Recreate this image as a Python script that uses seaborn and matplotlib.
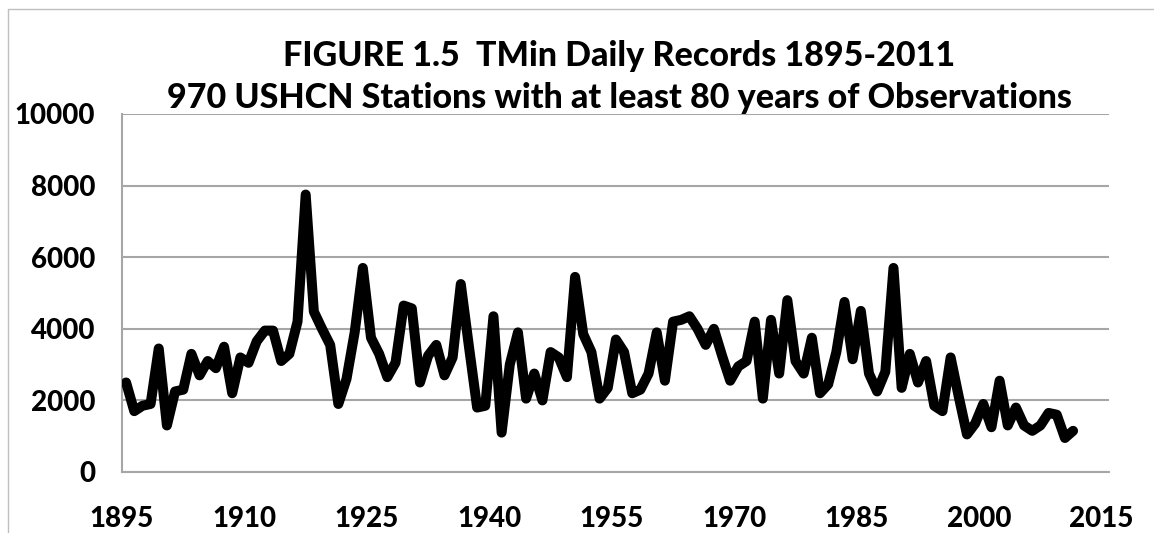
import numpy as np
import pandas as pd
import matplotlib
matplotlib.use("Agg")
import matplotlib.pyplot as plt
from matplotlib.ticker import MultipleLocator
from matplotlib.lines import Line2D
import seaborn as sns

# ---- data ----
years = list(range(1895, 2012))
records = [
    2500, 1700, 1850, 1900, 3450, 1300, 2250, 2300, 3300, 2700,   # 1895-1904
    3100, 2900, 3500, 2200, 3200, 3050, 3650, 3950, 3950, 3100,   # 1905-1914
    3300, 4200, 7750, 4480, 4000, 3550, 1900, 2600, 3900, 5700,   # 1915-1924
    3750, 3300, 2650, 3050, 4650, 4570, 2500, 3250, 3550, 2700,   # 1925-1934
    3200, 5250, 3500, 1800, 1850, 4350, 1100, 3000, 3900, 2050,   # 1935-1944
    2750, 2000, 3350, 3200, 2650, 5450, 3850, 3350, 2050, 2350,   # 1945-1954
    3700, 3350, 2200, 2300, 2750, 3900, 2550, 4200, 4250, 4350,   # 1955-1964
    4000, 3550, 4000, 3250, 2550, 2950, 3100, 4200, 2050, 4250,   # 1965-1974
    2750, 4800, 3100, 2750, 3750, 2200, 2450, 3350, 4750, 3150,   # 1975-1984
    4500, 2750, 2250, 2800, 5700, 2350, 3300, 2500, 3100, 1850,   # 1985-1994
    1700, 3200, 2100, 1050, 1350, 1900, 1250, 2550, 1300, 1800,   # 1995-2004
    1300, 1150, 1300, 1650, 1600, 950, 1150,                      # 2005-2011
]
assert len(years) == len(records)

title_line1 = "FIGURE 1.5  TMin Daily Records 1895-2011"
title_line2 = "970 USHCN Stations with at least 80 years of Observations"
x_major = [1895, 1910, 1925, 1940, 1955, 1970, 1985, 2000, 2015]
y_major = [0, 2000, 4000, 6000, 8000, 10000]

df = pd.DataFrame({"year": years, "records": records})
# values are plotted at mid-year, as in the reference
df["xpos"] = df["year"] + 0.5

sns.set_style("white")
plt.rcParams["font.family"] = ["Lato", "DejaVu Sans"]
FW = "black"

W, H, DPI = 1154, 533, 100
fig = plt.figure(figsize=(W / DPI, H / DPI), dpi=DPI)
ax = fig.add_axes([122 / W, (H - 472) / H, (1109 - 122) / W, (472 - 114) / H])

grid_col = "#A6A6A6"
sns.lineplot(data=df, x="xpos", y="records", ax=ax, color="black",
             linewidth=7.2, solid_joinstyle="round", solid_capstyle="round",
             zorder=3)

ax.set_xlim(1895, 2015.9)
ax.set_ylim(0, 10000)
ax.set_xticks(x_major)
ax.xaxis.set_minor_locator(MultipleLocator(5))
ax.set_yticks(y_major)
ax.set_xticklabels([str(v) for v in x_major])
ax.set_yticklabels([str(v) for v in y_major])

ax.yaxis.grid(True, color=grid_col, linewidth=1.5, zorder=0)
ax.xaxis.grid(False)
for s in ["top", "right"]:
    ax.spines[s].set_visible(False)
for s in ["left", "bottom"]:
    ax.spines[s].set_color(grid_col)
    ax.spines[s].set_linewidth(1.5)

ax.tick_params(axis="x", which="both", direction="out", length=7.2, width=1.5,
               color=grid_col, labelsize=20, pad=17, labelcolor="black")
ax.tick_params(axis="y", which="major", direction="out", length=7.2, width=1.5,
               color=grid_col, labelsize=20, pad=12, labelcolor="black")
for lab in ax.get_xticklabels() + ax.get_yticklabels():
    lab.set_fontweight(FW)
ax.set_xlabel("")
ax.set_ylabel("")

cx = 619 / W
fig.text(cx, (H - 66) / H, title_line1, ha="center", va="baseline",
         fontsize=24.5, fontweight=FW, color="black")
fig.text(cx, (H - 108) / H, title_line2, ha="center", va="baseline",
         fontsize=24.5, fontweight=FW, color="black")

# chart-area border (left and top edges visible in the reference)
border_col = "#BFBFBF"
fig.add_artist(Line2D([7.5 / W, 7.5 / W], [0, (H - 8.5) / H],
                      transform=fig.transFigure, color=border_col, linewidth=1))
fig.add_artist(Line2D([7.5 / W, 1], [(H - 8.5) / H, (H - 8.5) / H],
                      transform=fig.transFigure, color=border_col, linewidth=1))

fig.savefig("out.png", dpi=DPI, facecolor="white")
